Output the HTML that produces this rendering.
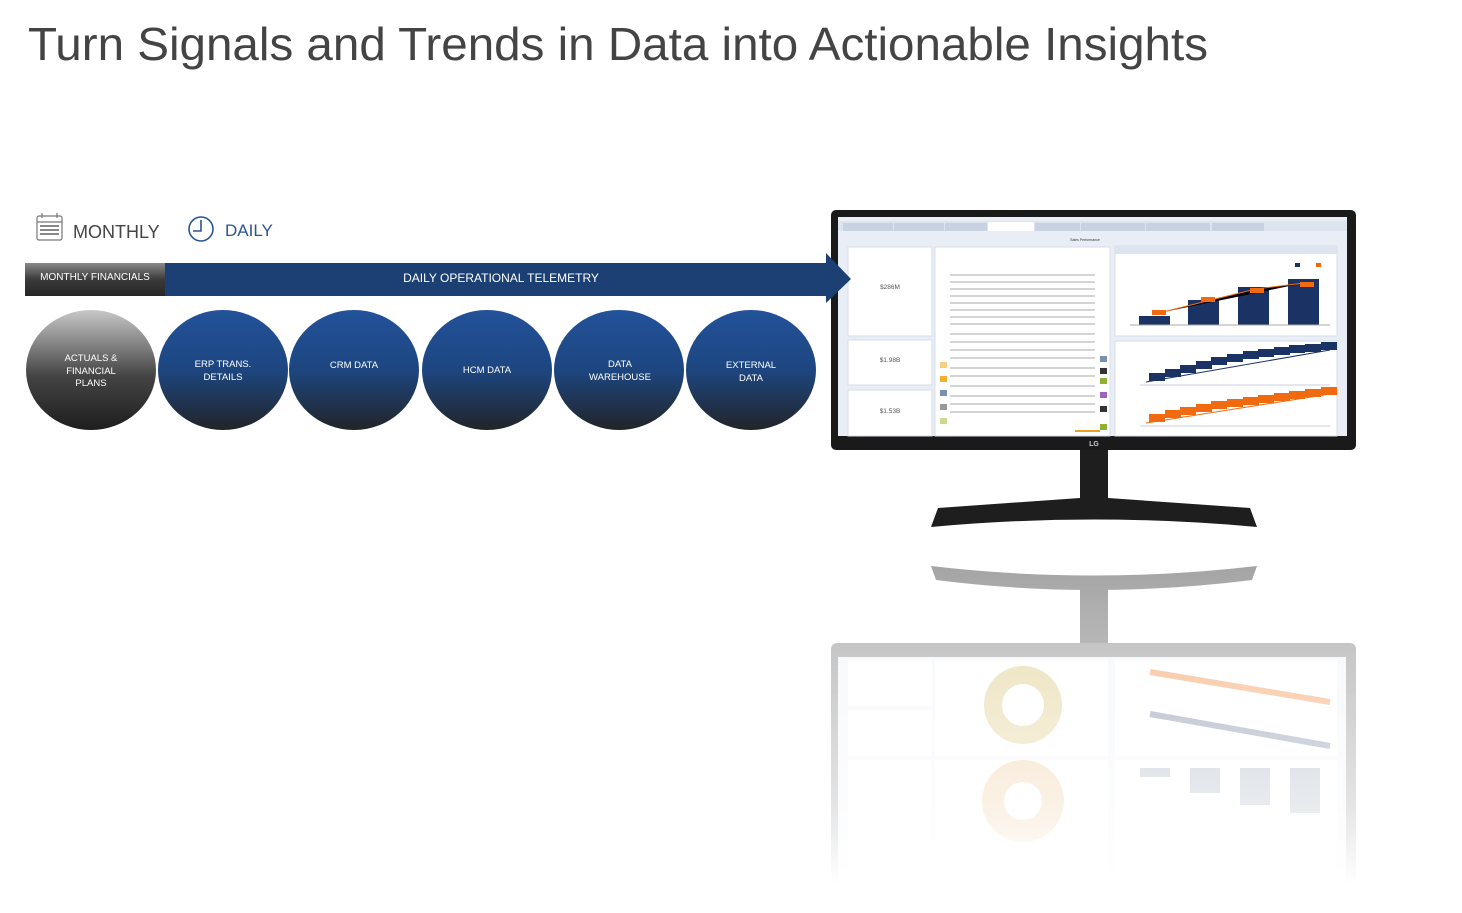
<!DOCTYPE html>
<html><head><meta charset="utf-8"><style>
html,body{margin:0;padding:0;background:#fff;}
svg{display:block;}
text{font-family:"Liberation Sans",sans-serif;}
</style></head><body>
<svg width="1462" height="913" viewBox="0 0 1462 913" xmlns="http://www.w3.org/2000/svg">
<defs>
<linearGradient id="gb" x1="0" y1="0" x2="0" y2="1"><stop offset="0" stop-color="#23529a"/><stop offset="0.5" stop-color="#1d4680"/><stop offset="1" stop-color="#222428"/></linearGradient>
<linearGradient id="gg" x1="0" y1="0" x2="0" y2="1"><stop offset="0" stop-color="#c8c8c8"/><stop offset="0.55" stop-color="#444"/><stop offset="1" stop-color="#1e1e1e"/></linearGradient>
<linearGradient id="gm" x1="0" y1="0" x2="0" y2="1"><stop offset="0" stop-color="#8a8a8a"/><stop offset="0.5" stop-color="#3a3a3a"/><stop offset="1" stop-color="#262626"/></linearGradient>
<linearGradient id="fade" x1="0" y1="0" x2="0" y2="1"><stop offset="0" stop-color="#fff" stop-opacity="0.55"/><stop offset="0.75" stop-color="#fff" stop-opacity="0.2"/><stop offset="1" stop-color="#fff" stop-opacity="0"/></linearGradient>
<mask id="rm"><rect x="820" y="555" width="550" height="330" fill="url(#fade)"/></mask>
</defs>

<text x="28" y="60" font-size="46" fill="#444" textLength="1180" lengthAdjust="spacingAndGlyphs">Turn Signals and Trends in Data into Actionable Insights</text>

<g stroke="#777" fill="none" stroke-width="1.2">
<rect x="37" y="216" width="25" height="24" rx="2"/>
<line x1="37" y1="222" x2="62" y2="222"/>
<line x1="42" y1="213" x2="42" y2="218"/><line x1="57" y1="213" x2="57" y2="218"/>
</g>
<g fill="#888">
<rect x="40" y="225" width="19" height="2"/><rect x="40" y="229" width="19" height="2"/><rect x="40" y="233" width="19" height="2"/>
</g>
<text x="73" y="238" font-size="18" fill="#444">MONTHLY</text>
<circle cx="201" cy="229" r="12" stroke="#2a5596" stroke-width="1.6" fill="none"/>
<path d="M201 220 V231 H193" stroke="#2a5596" stroke-width="1.6" fill="none"/>
<text x="225" y="236" font-size="17" fill="#2a5596">DAILY</text>

<ellipse cx="91" cy="370" rx="65" ry="60" fill="url(#gg)"/>
<ellipse cx="223" cy="370" rx="65" ry="60" fill="url(#gb)"/>
<ellipse cx="354" cy="370" rx="65" ry="60" fill="url(#gb)"/>
<ellipse cx="487" cy="370" rx="65" ry="60" fill="url(#gb)"/>
<ellipse cx="619" cy="370" rx="65" ry="60" fill="url(#gb)"/>
<ellipse cx="751" cy="370" rx="65" ry="60" fill="url(#gb)"/>
<g font-size="9.5" fill="#fff" text-anchor="middle">
<text x="91" y="361">ACTUALS &amp;</text><text x="91" y="374">FINANCIAL</text><text x="91" y="386">PLANS</text>
<text x="223" y="367">ERP TRANS.</text><text x="223" y="380">DETAILS</text>
<text x="354" y="368">CRM DATA</text>
<text x="487" y="373">HCM DATA</text>
<text x="620" y="367">DATA</text><text x="620" y="380">WAREHOUSE</text>
<text x="751" y="368">EXTERNAL</text><text x="751" y="381">DATA</text>
</g>

<g mask="url(#rm)">
<path d="M931 566 Q1094 585 1257 566 L1252 580 Q1094 600 936 580 Z" fill="#555"/>
<rect x="1080" y="585" width="28" height="60" fill="#555"/>
<rect x="831" y="643" width="525" height="240" rx="6" fill="#777"/>
<rect x="838" y="657" width="508" height="226" fill="#eef1f6"/>
<rect x="848" y="660" width="84" height="46" fill="#fff"/><rect x="848" y="710" width="84" height="46" fill="#fff"/><rect x="848" y="760" width="84" height="110" fill="#fff"/>
<rect x="935" y="660" width="173" height="96" fill="#fff"/><rect x="935" y="760" width="173" height="110" fill="#fff"/>
<rect x="1115" y="660" width="222" height="96" fill="#fff"/><rect x="1115" y="760" width="222" height="110" fill="#fff"/>
<circle cx="1023" cy="705" r="30" fill="none" stroke="#d8c070" stroke-width="18"/>
<circle cx="1023" cy="801" r="30" fill="none" stroke="#e8b87a" stroke-width="22"/>
<rect x="1140" y="768" width="30" height="9" fill="#8899aa"/><rect x="1190" y="768" width="30" height="25" fill="#8899aa"/><rect x="1240" y="768" width="30" height="37" fill="#8899aa"/><rect x="1290" y="768" width="30" height="45" fill="#8899aa"/>
<path d="M1150 672 L1330 702" stroke="#f08030" stroke-width="6"/>
<path d="M1150 714 L1330 746" stroke="#556688" stroke-width="6"/>
</g>

<path d="M1080 448 H1108 V498 L1250 508 L1257 527 Q1094 512 931 527 L938 508 L1080 498 Z" fill="#1e1e1e"/>
<rect x="831" y="210" width="525" height="240" rx="5" fill="#1a1a1a"/>
<rect x="838" y="217" width="509" height="219" fill="#e9eef6"/>
<text x="1094" y="446" font-size="7" fill="#ccc" text-anchor="middle" font-weight="bold">LG</text>
<rect x="838" y="221" width="509" height="10" fill="#dde4ef"/>
<g fill="#c8d2e2"><rect x="843" y="223" width="50" height="8"/><rect x="894" y="223" width="50" height="8"/><rect x="945" y="223" width="42" height="8"/><rect x="988" y="222" width="46" height="9" fill="#fff"/><rect x="1035" y="223" width="45" height="8"/><rect x="1081" y="223" width="64" height="8"/><rect x="1146" y="223" width="64" height="8"/><rect x="1212" y="223" width="52" height="8"/></g>
<text x="1085" y="241" font-size="3.5" fill="#333" text-anchor="middle">Sales Performance</text>
<rect x="848" y="247" width="84" height="89" fill="#fff" stroke="#d8dee8"/>
<rect x="848" y="340" width="84" height="45" fill="#fff" stroke="#d8dee8"/>
<rect x="848" y="390" width="84" height="46" fill="#fff" stroke="#d8dee8"/>
<g font-size="6.5" fill="#555" text-anchor="middle"><text x="890" y="289">$286M</text><text x="890" y="362">$1.98B</text><text x="890" y="413">$1.53B</text></g>
<rect x="935" y="247" width="175" height="189" fill="#fff" stroke="#d8dee8"/>
<g stroke="#aaa" stroke-width="1">
<line x1="950" y1="275" x2="1095" y2="275"/><line x1="950" y1="282" x2="1095" y2="282"/><line x1="950" y1="289" x2="1095" y2="289"/><line x1="950" y1="296" x2="1095" y2="296"/><line x1="950" y1="303" x2="1095" y2="303"/><line x1="950" y1="310" x2="1095" y2="310"/><line x1="950" y1="317" x2="1095" y2="317"/><line x1="950" y1="324" x2="1095" y2="324"/><line x1="950" y1="334" x2="1095" y2="334"/><line x1="950" y1="342" x2="1095" y2="342"/><line x1="950" y1="350" x2="1095" y2="350"/><line x1="950" y1="358" x2="1095" y2="358"/><line x1="950" y1="368" x2="1095" y2="368"/><line x1="950" y1="376" x2="1095" y2="376"/><line x1="950" y1="386" x2="1095" y2="386"/><line x1="950" y1="396" x2="1095" y2="396"/><line x1="950" y1="404" x2="1095" y2="404"/><line x1="950" y1="412" x2="1095" y2="412"/>
</g>
<g><rect x="940" y="362" width="7" height="6" fill="#f6d080"/><rect x="940" y="376" width="7" height="6" fill="#f0b030"/><rect x="940" y="390" width="7" height="6" fill="#7a90b0"/><rect x="940" y="404" width="7" height="6" fill="#999"/><rect x="940" y="418" width="7" height="6" fill="#c8dc90"/><rect x="1100" y="356" width="7" height="6" fill="#7a90b0"/><rect x="1100" y="368" width="7" height="6" fill="#333"/><rect x="1100" y="378" width="7" height="6" fill="#90b030"/><rect x="1100" y="392" width="7" height="6" fill="#a060c0"/><rect x="1100" y="406" width="7" height="6" fill="#333"/><rect x="1100" y="424" width="7" height="6" fill="#90b030"/><rect x="1075" y="430" width="25" height="2" fill="#f0a020"/></g>
<rect x="1115" y="246" width="222" height="90" fill="#fff" stroke="#d8dee8"/>
<rect x="1115" y="246" width="222" height="8" fill="#dde4ef"/>
<g fill="#1b3264"><rect x="1139" y="316" width="31" height="9"/><rect x="1188" y="300" width="31" height="25"/><rect x="1238" y="287" width="31" height="38"/><rect x="1288" y="279" width="31" height="46"/><rect x="1295" y="263" width="5" height="4"/></g>
<rect x="1316" y="263" width="5" height="4" fill="#f26a10"/>
<path d="M1159 313 L1207 301 L1256 289 L1304 283" stroke="#f26a10" stroke-width="1"/>
<g fill="#f26a10"><rect x="1152" y="310" width="14" height="5"/><rect x="1201" y="297" width="14" height="5"/><rect x="1250" y="288" width="14" height="5"/><rect x="1300" y="282" width="14" height="5"/></g>
<line x1="1130" y1="325" x2="1330" y2="325" stroke="#aaa"/>
<rect x="1115" y="341" width="222" height="95" fill="#fff" stroke="#d8dee8"/>
<path d="M1146 382 L1330 350" stroke="#1b3264"/><path d="M1146 423 L1330 394" stroke="#f26a10"/>
<g fill="#1b3264">
<rect x="1149" y="373" width="16" height="8"/><rect x="1165" y="369" width="16" height="8"/><rect x="1180" y="365" width="16" height="8"/><rect x="1196" y="361" width="16" height="8"/><rect x="1211" y="357" width="16" height="8"/><rect x="1227" y="354" width="16" height="8"/><rect x="1243" y="351" width="16" height="8"/><rect x="1258" y="349" width="16" height="8"/><rect x="1274" y="347" width="16" height="8"/><rect x="1289" y="345" width="16" height="8"/><rect x="1305" y="344" width="16" height="8"/><rect x="1321" y="342" width="16" height="8"/>
</g>
<g fill="#f26a10">
<rect x="1149" y="414" width="16" height="8"/><rect x="1165" y="410" width="16" height="8"/><rect x="1180" y="407" width="16" height="8"/><rect x="1196" y="404" width="16" height="8"/><rect x="1211" y="401" width="16" height="8"/><rect x="1227" y="399" width="16" height="8"/><rect x="1243" y="397" width="16" height="8"/><rect x="1258" y="395" width="16" height="8"/><rect x="1274" y="393" width="16" height="8"/><rect x="1289" y="391" width="16" height="8"/><rect x="1305" y="389" width="16" height="8"/><rect x="1321" y="387" width="16" height="8"/>
</g>
<line x1="1140" y1="385" x2="1330" y2="385" stroke="#ccd"/><line x1="1140" y1="426" x2="1330" y2="426" stroke="#ccd"/>

<rect x="25" y="263" width="140" height="33" fill="url(#gm)"/>
<path d="M165 263 H826 V253 L851 279 L826 303 V296 H165 Z" fill="#1c3f74"/>
<text x="95" y="280" font-size="10" fill="#fff" text-anchor="middle">MONTHLY FINANCIALS</text>
<text x="501" y="282" font-size="12" fill="#fff" text-anchor="middle">DAILY OPERATIONAL TELEMETRY</text>
</svg>
</body></html>
